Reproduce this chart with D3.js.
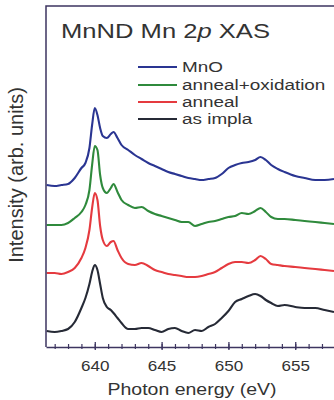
<!DOCTYPE html>
<html>
<head>
<meta charset="utf-8">
<script src="https://cdn.jsdelivr.net/npm/d3@7"></script>
<style>
  body { margin: 0; background: #fff; }
  text { font-family: "Liberation Sans", Arial, sans-serif; fill: #333; }
</style>
</head>
<body>
<div id="chart"></div>
<script>
// photon energy grid (eV)
var energy = [636.4, 637, 637.5, 638, 638.5, 639, 639.3, 639.6, 639.8, 640,
    640.2, 640.4, 640.6, 640.9, 641.2, 641.4, 641.7, 642, 642.5, 643,
    643.5, 644, 644.5, 645, 645.5, 646, 646.5, 647, 647.5, 648,
    648.5, 649, 649.5, 650, 650.5, 651, 651.5, 652, 652.4, 652.8,
    653.2, 653.7, 654.2, 655, 655.7, 656.5, 657.2, 657.9];

// intensities (arb. units, already offset for stacking)
var mno = [162, 161, 162, 163, 169, 179, 184, 199, 222, 239,
    232, 219, 211, 209, 213, 215, 209, 202, 197, 192,
    188, 184, 181, 178, 175, 173, 171, 169, 168, 167,
    168, 169, 173, 179, 182, 184, 185, 187, 190, 187,
    182, 178, 175, 171, 169, 167, 167, 168];
var annealOx = [122, 122, 122, 124, 129, 135, 142, 157, 182, 201,
    197, 172, 159, 154, 159, 163, 155, 147, 142, 139,
    140, 136, 133, 131, 129, 127, 125, 125, 121, 123,
    125, 126, 128, 130, 131, 134, 133, 136, 139, 135,
    130, 128, 128, 127, 126, 125, 124, 123];
var anneal = [74, 74, 73, 75, 79, 89, 99, 117, 139, 154,
    147, 121, 107, 101, 105, 106, 97, 89, 83, 82,
    84, 81, 77, 75, 73, 72, 71, 70, 70, 71,
    73, 75, 79, 83, 85, 85, 84, 87, 91, 88,
    83, 82, 81, 80, 79, 78, 77, 76];
var asImpla = [16, 15, 16, 18, 25, 39, 49, 63, 75, 82,
    77, 63, 49, 40, 37, 34, 29, 24, 18, 18,
    19, 19, 17, 15, 18, 19, 16, 14, 17, 16,
    20, 23, 29, 36, 45, 48, 51, 53, 51, 47,
    44, 41, 42, 40, 39, 39, 37, 35];

var seriesNames = ["MnO", "anneal+oxidation", "anneal", "as impla"];
var seriesValues = [mno, annealOx, anneal, asImpla];
var seriesColors = ["#2a3592", "#2f8a3c", "#e53a3f", "#262a36"];

var majorTicks = [640, 645, 650, 655];
var minorTicks = d3.range(637, 658);

var W = 334, H = 400;
var plotLeft = 46, plotTop = 6, plotBottom = 347;

var svg = d3.select("#chart").append("svg")
    .attr("width", W)
    .attr("height", H);

var x = d3.scaleLinear()
    .domain([636.35, 657.9])
    .range([plotLeft, 334]);

var y = d3.scaleLinear()
    .domain([0, 341])
    .range([plotBottom, plotTop]);

var sx = 1.22; // horizontal stretch of the lettering in the original

function label(txt, px, py, size) {
    return svg.append("text")
        .attr("transform", "translate(" + px + "," + py + ") scale(" + sx + ",1)")
        .attr("font-size", size)
        .text(txt);
}

// curves
var line = d3.line()
    .x(function(d) { return x(d[0]); })
    .y(function(d) { return y(d[1]); })
    .curve(d3.curveMonotoneX);

seriesValues.forEach(function(vals, i) {
    svg.append("path")
        .datum(d3.zip(energy, vals))
        .attr("fill", "none")
        .attr("stroke", seriesColors[i])
        .attr("stroke-width", 2.1)
        .attr("stroke-linejoin", "round")
        .attr("d", line);
});

// frame
svg.append("path")
    .attr("d", "M" + W + "," + plotTop + "H" + plotLeft + "V" + plotBottom)
    .attr("fill", "none")
    .attr("stroke", "#3d3560")
    .attr("stroke-width", 1.5);

// bottom axis
var minorAxis = svg.append("g")
    .attr("transform", "translate(0," + plotBottom + ")")
    .call(d3.axisBottom(x).tickValues(minorTicks).tickSize(0).tickFormat(""));
minorAxis.select(".domain").attr("stroke", "#3d3560").attr("stroke-width", 1.5);
minorAxis.selectAll(".tick line")
    .attr("y1", -3).attr("y2", 2)
    .attr("stroke", "#3d3560").attr("stroke-width", 1.2);

var majorAxis = svg.append("g")
    .attr("transform", "translate(0," + plotBottom + ")")
    .call(d3.axisBottom(x).tickValues(majorTicks).tickSize(0).tickPadding(14));
majorAxis.select(".domain").remove();
majorAxis.selectAll(".tick line")
    .attr("y1", -5).attr("y2", 3)
    .attr("stroke", "#3d3560").attr("stroke-width", 1.3);
majorAxis.selectAll(".tick text")
    .attr("font-size", 14)
    .attr("font-family", "Liberation Sans, Arial, sans-serif")
    .attr("fill", "#333")
    .attr("transform", "scale(" + sx + ",1)");

// title
svg.append("text")
    .attr("x", 61).attr("y", 38)
    .attr("font-size", 21)
    .attr("textLength", 209)
    .attr("lengthAdjust", "spacingAndGlyphs")
    .html('MnND Mn 2<tspan font-style="italic">p</tspan> XAS');

// legend
var legendY = [67, 85, 102, 119];
seriesNames.forEach(function(name, i) {
    svg.append("line")
        .attr("x1", 138).attr("x2", 177)
        .attr("y1", legendY[i]).attr("y2", legendY[i])
        .attr("stroke", seriesColors[i])
        .attr("stroke-width", 1.8);
    label(name, 182, legendY[i] + 5, 15.5);
});

// axis titles
svg.append("text")
    .attr("text-anchor", "middle")
    .attr("transform", "translate(" + 192 + ",395) scale(" + sx + ",1)")
    .attr("font-size", 16)
    .text("Photon energy (eV)");

svg.append("text")
    .attr("text-anchor", "middle")
    .attr("transform", "translate(23,175) rotate(-90)")
    .attr("font-size", 20)
    .text("Intensity (arb. units)");
</script>
</body>
</html>
